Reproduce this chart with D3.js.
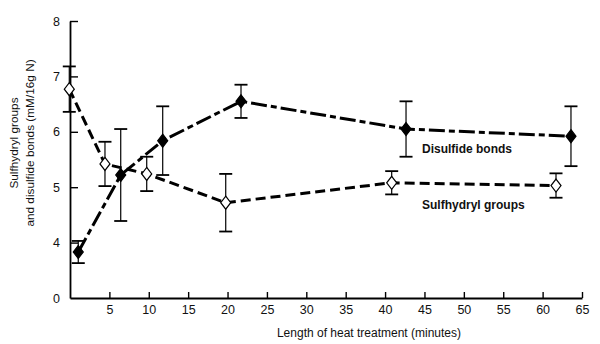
<!DOCTYPE html>
<html><head><meta charset="utf-8">
<script src="https://cdn.jsdelivr.net/npm/d3@7"></script>
<style>
html,body{margin:0;padding:0;background:#fff;}
svg{display:block;font-family:"Liberation Sans",Arial,sans-serif;}
</style></head>
<body><svg id="c" width="600" height="344"></svg>
<script>
// Data (minutes, mM/16g N, error)
const disulfideTime = [1.05, 6.44, 11.77, 21.71, 42.66, 63.6];
const disulfideValue = [3.83, 5.22, 5.84, 6.55, 6.05, 5.92];
const disulfideErr = [0.2, 0.83, 0.62, 0.3, 0.5, 0.54];
const sulfhydrylTime = [-0.09, 4.44, 9.74, 19.77, 40.84, 61.7];
const sulfhydrylValue = [6.77, 5.42, 5.24, 4.72, 5.08, 5.03];
const sulfhydrylErr = [0.41, 0.4, 0.31, 0.52, 0.21, 0.22];
const xTicks = [5,10,15,20,25,30,35,40,45,50,55,60,65];
const yTicks = [3,4,5,6,7,8];
const yTickLabels = ["0","4","5","6","7","8"];
const seriesNames = ["Disulfide bonds","Sulfhydryl groups"];
const xTitle = "Length of heat treatment (minutes)";
const yTitle = ["Sulfhydryl groups","and disulfide bonds (mM/16g N)"];

const svg = d3.select("#c");
const x = d3.scaleLinear().domain([0,65]).range([70,582]);
const y = d3.scaleLinear().domain([3,8]).range([298,21]);

// axes
const xAxis = d3.axisBottom(x).tickValues(xTicks).tickSizeInner(-6).tickSizeOuter(0).tickPadding(7);
const gx = svg.append("g").attr("transform","translate(0,298)").call(xAxis);
const yAxis = d3.axisLeft(y).tickValues(yTicks).tickSizeInner(-8).tickSizeOuter(0).tickPadding(10)
  .tickFormat((d,i)=>yTickLabels[yTicks.indexOf(d)]);
const gy = svg.append("g").attr("transform","translate(70,0)").call(yAxis);
[gx,gy].forEach(g=>{
  g.select(".domain").attr("stroke","#000").attr("stroke-width",1.8);
  g.selectAll(".tick line").attr("stroke","#000").attr("stroke-width",1.4);
  g.selectAll(".tick text").attr("fill","#111").attr("font-size",12.5).attr("font-family","Liberation Sans, Arial, sans-serif");
});
gy.selectAll(".tick").filter(d=>d===3).select("line").remove();

// titles
svg.append("text").attr("x",369).attr("y",337).attr("text-anchor","middle")
  .attr("font-size",12).attr("fill","#111").text(xTitle);
yTitle.forEach((t,i)=>{
  svg.append("text").attr("transform",`translate(${18+i*16},143) rotate(-90)`)
    .attr("text-anchor","middle").attr("font-size",11.8).attr("fill","#111").text(t);
});

function series(times, vals, errs, filled, dash){
  const pts = times.map((t,i)=>({t, v:vals[i], e:errs[i]}));
  const line = d3.line().x(d=>x(d.t)).y(d=>y(d.v));
  svg.append("path").datum(pts).attr("d",line).attr("fill","none")
    .attr("stroke","#000").attr("stroke-width",3).attr("stroke-dasharray",dash);
  const g = svg.append("g");
  pts.forEach(d=>{
    const cx = x(d.t), y1 = y(d.v+d.e), y2 = y(d.v-d.e);
    g.append("line").attr("x1",cx).attr("x2",cx).attr("y1",y1).attr("y2",y2).attr("stroke","#000").attr("stroke-width",1.2);
    [y1,y2].forEach(yy=>g.append("line").attr("x1",cx-6.5).attr("x2",cx+6.5).attr("y1",yy).attr("y2",yy).attr("stroke","#000").attr("stroke-width",1.8));
    g.append("path").attr("transform",`translate(${cx},${y(d.v)})`)
      .attr("d","M0,-6.5L5,0L0,6.5L-5,0Z")
      .attr("fill",filled?"#000":"#fff").attr("stroke","#000").attr("stroke-width",1.2);
  });
}
series(sulfhydrylTime, sulfhydrylValue, sulfhydrylErr, false, "10,5");
series(disulfideTime, disulfideValue, disulfideErr, true, "16,4,6,4");

svg.append("text").attr("x",422).attr("y",153).attr("font-size",12).attr("font-weight",600).attr("fill","#111").text(seriesNames[0]);
svg.append("text").attr("x",422).attr("y",209).attr("font-size",12).attr("font-weight",600).attr("fill","#111").text(seriesNames[1]);
</script></body></html>
